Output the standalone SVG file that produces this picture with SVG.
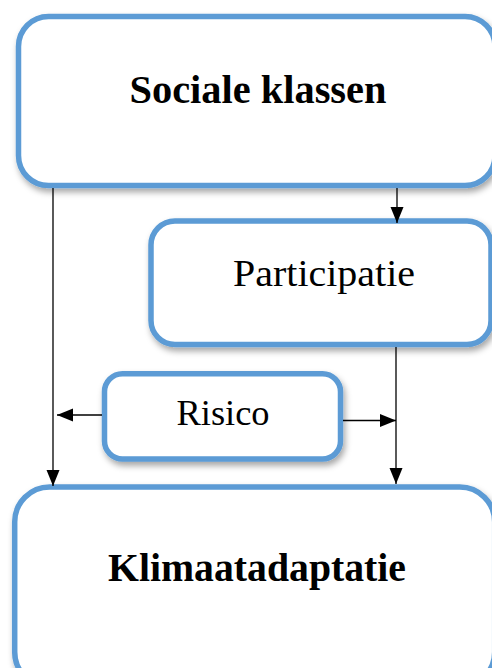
<svg xmlns="http://www.w3.org/2000/svg" width="492" height="668" viewBox="0 0 492 668">
<style>
.box{fill:#ffffff;stroke:#5B9BD5;stroke-width:5.5;filter:url(#sh)}
.lbl{font-family:"Liberation Serif","Times New Roman",serif;fill:#000;text-anchor:middle}
.b{font-weight:bold}
.con{stroke:#000;stroke-width:1.3;fill:none;marker-end:url(#ah)}
</style>
<defs>
<filter id="sh" x="-10%" y="-10%" width="130%" height="140%">
<feDropShadow dx="2" dy="4" stdDeviation="3" flood-color="#000" flood-opacity="0.35"/>
</filter>
<marker id="ah" markerUnits="userSpaceOnUse" markerWidth="16" markerHeight="14" refX="16" refY="7" orient="auto">
<path d="M0,0.5 L16,7 L0,13.5 z" fill="#000"/>
</marker>
</defs>
<g id="node-sociale">
<rect class="box" x="18.5" y="16.5" width="476.5" height="169" rx="30"/>
<text class="lbl b" x="258" y="103" font-size="40" textLength="257" lengthAdjust="spacingAndGlyphs">Sociale klassen</text>
</g>
<g id="node-participatie">
<rect class="box" x="151" y="221" width="340" height="123.5" rx="24"/>
<text class="lbl" x="324" y="286" font-size="37" textLength="182" lengthAdjust="spacingAndGlyphs">Participatie</text>
</g>
<g id="node-risico">
<rect class="box" x="104.5" y="373.7" width="236" height="85.3" rx="18"/>
<text class="lbl" x="223" y="425" font-size="35" textLength="93" lengthAdjust="spacingAndGlyphs">Risico</text>
</g>
<g id="node-klimaat">
<rect class="box" x="14.7" y="487" width="480" height="200" rx="35"/>
<text class="lbl b" x="257" y="581" font-size="39" textLength="298" lengthAdjust="spacingAndGlyphs">Klimaatadaptatie</text>
</g>
<g id="connectors">
<path class="con" d="M53,188 L53,486"/>
<path class="con" d="M397,188 L397,223"/>
<path class="con" d="M396,347 L396,484"/>
<path class="con" d="M102,415 L57,415"/>
<path class="con" d="M343,420.5 L396,420.5"/>
</g>
</svg>
